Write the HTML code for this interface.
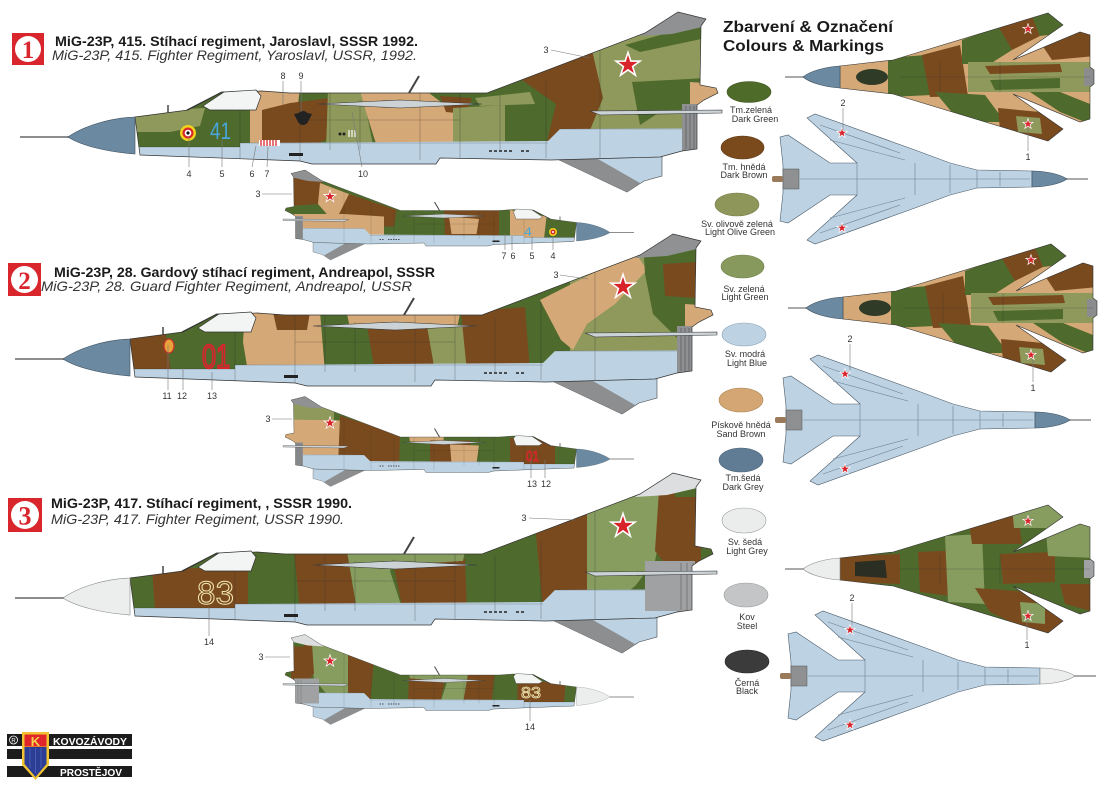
<!DOCTYPE html>
<html><head><meta charset="utf-8"><style>
html,body{margin:0;padding:0;background:#fff;width:1105px;height:791px;overflow:hidden}
svg{display:block}
text{font-family:"Liberation Sans",Arial,sans-serif}
</style></head><body>
<svg xmlns="http://www.w3.org/2000/svg" width="1105" height="791" viewBox="0 0 1105 791">
<defs>
<path id="star" d="M0,-12 L2.7,-3.72 L11.41,-3.71 L4.37,1.42 L7.05,9.71 L0,4.6 L-7.05,9.71 L-4.37,1.42 L-11.41,-3.71 L-2.7,-3.72 Z" fill="#d8232a" stroke="#fff" stroke-width="1.5"/>
<clipPath id="bc"><path d="M135,117 L188,110 L222,92 L262,91 L290,93 L487,93 L645,33 L678,12 L706,19 L701,26 L700,85 L716,88 L718,93 L704,100 L697,105 L697,149 L682,151 L660,157 L551,160 L440,158 L436,164 L312,164 L300,161 L140,155 Z"/></clipPath>
<path id="radP" d="M135,117 C108,118 82,127 68,137 C82,146 108,152 135,154 Z"/>

<g id="back">
 <line x1="20" y1="137" x2="72" y2="137" stroke="#8d8d8d" stroke-width="2"/>
 <path d="M555,158 L627,192 L644,181 L662,176 L662,156 Z" fill="#bdd3e4" stroke="#444" stroke-width=".6"/>
 <path d="M555,158 L627,192 L640,183 L598,159 Z" fill="#8c8e90"/>
</g>

<g id="belly">
 <path d="M120,147 L240,147 L240,143 L548,141 L560,129 L730,128 L730,175 L120,175 Z" fill="#bdd3e4"/>
 <rect x="682" y="104" width="20" height="47" fill="#8e9092"/>
 <path d="M686,106V149M690,106V149M694,106V149M698,106V149" stroke="#5e6062" stroke-width=".8"/>
 <rect x="289" y="153" width="14" height="3" fill="#222"/>
 <path d="M489,151h3m2,0h3m2,0h3m2,0h3m2,0h3M521,151h3m2,0h3" stroke="#222" stroke-width="1.4"/>
 <path d="M240,93V160M300,93V162M330,93V150M420,93V160M460,93V158M546,80V158M600,50V158M135,147H240M240,143H548M560,129H682M300,120H460M360,100V150M500,95V150" stroke="#2b2b2b" stroke-opacity=".45" stroke-width=".6" fill="none"/>
</g>

<g id="front">
 <path d="M135,117 L188,110 L222,92 L262,91 L290,93 L487,93 L645,33 L678,12 L706,19 L701,26 L700,85 L716,88 L718,93 L704,100 L697,105 L697,149 L682,151 L660,157 L551,160 L440,158 L436,164 L312,164 L300,161 L140,155 Z" fill="none" stroke="#333" stroke-width=".7"/>
 <path d="M203,106 L224,92 L256,90 L261,96 L256,110 L210,110 Z" fill="#f3f4f4" stroke="#333" stroke-width=".7"/>
 <path d="M187,110 L222,92" stroke="#333" stroke-width="1.2"/>
 <path d="M318,104 L400,100 L482,104 L400,108 Z" fill="#ccd3d7" stroke="#333" stroke-width=".6"/>
 <path d="M590,111 L722,110 L722,113 L600,115 Z" fill="#ccd3d7" stroke="#333" stroke-width=".6"/>
 <line x1="409" y1="93" x2="419" y2="76" stroke="#444" stroke-width="2"/>
 <line x1="168" y1="113" x2="168" y2="105" stroke="#444" stroke-width="1.5"/>
 <use href="#star" transform="translate(628,65) scale(1.05)"/>
</g>

<g id="camo1">
 <path fill="#8e995b" d="M130,112 L205,108 L200,126 L170,132 L130,132 Z"/>
 <path fill="#d5a977" d="M250,88 L300,88 L298,104 L275,108 L262,150 L250,150 Z"/>
 <path fill="#7a4a1f" d="M262,110 L290,103 L330,98 L326,140 L300,150 L262,150 Z"/>
 <path fill="#8e995b" d="M328,90 L362,90 L374,150 L326,150 Z"/>
 <path fill="#d5a977" d="M360,90 L425,90 L462,118 L452,150 L378,150 L366,112 Z"/>
 <path fill="#7a4a1f" d="M440,96 L472,98 L466,114 L446,112 Z"/>
 <path fill="#8e995b" d="M453,108 L505,105 L505,150 L453,150 Z"/>
 <path fill="#8e995b" d="M475,98 L530,92 L535,104 L480,106 Z"/>
 <path fill="#7a4a1f" d="M522,80 L594,52 L603,98 L582,150 L545,150 L556,104 Z"/>
 <path fill="#8e995b" d="M592,50 L660,5 L712,5 L712,150 L582,150 L603,98 Z"/>
 <path fill="#4e6a2c" d="M625,45 L706,22 L706,38 L640,52 Z"/>
 <path fill="#4e6a2c" d="M632,82 L706,78 L706,110 L660,112 L640,125 Z"/>
 <path fill="#d5a977" d="M690,82 L720,84 L720,112 L690,112 Z"/>
 <path fill="#8f9193" d="M640,36 L678,10 L708,17 L702,27 L672,34 Z"/>
</g>
<g id="camo2">
 <path fill="#7a4a1f" d="M128,110 L170,106 L176,150 L128,150 Z"/>
 <path fill="#d5a977" d="M250,90 L325,90 L330,150 L253,150 L248,120 Z"/>
 <path fill="#7a4a1f" d="M278,90 L315,90 L312,108 L282,108 Z"/>
 <path fill="#d5a977" d="M352,92 L465,92 L462,106 L355,106 Z"/>
 <path fill="#7a4a1f" d="M372,104 L432,104 L440,150 L380,150 Z"/>
 <path fill="#8e995b" d="M432,104 L472,104 L472,150 L440,150 Z"/>
 <path fill="#7a4a1f" d="M466,90 L530,85 L535,150 L472,150 Z"/>
 <path fill="#8e995b" d="M575,55 L660,5 L712,5 L712,150 L575,150 Z"/>
 <path fill="#d5a977" d="M545,78 L640,30 L652,48 L620,82 L592,102 L578,128 L566,118 Z"/>
 <path fill="#4e6a2c" d="M648,18 L712,12 L712,118 L684,118 L658,92 L650,52 Z"/>
 <path fill="#7a4a1f" d="M668,42 L702,40 L702,76 L670,74 Z"/>
 <path fill="#d5a977" d="M690,82 L720,84 L720,112 L690,112 Z"/>
 <path fill="#8f9193" d="M640,36 L678,10 L708,17 L702,27 L672,34 Z"/>
</g>
<g id="camo3">
 <path fill="#7a4a1f" d="M157,108 L253,106 L253,150 L160,150 Z"/>
 <path fill="#7a4a1f" d="M299,90 L352,90 L362,150 L305,150 Z"/>
 <path fill="#879c5f" d="M352,90 L400,90 L395,110 L408,150 L362,150 Z"/>
 <path fill="#7a4a1f" d="M398,102 L470,98 L472,150 L408,150 Z"/>
 <path fill="#879c5f" d="M395,90 L470,90 L468,100 L400,104 Z"/>
 <path fill="#7a4a1f" d="M540,62 L598,36 L595,150 L548,150 Z"/>
 <path fill="#879c5f" d="M592,36 L650,8 L672,8 L668,60 L660,100 L640,125 L610,150 L592,150 Z"/>
 <path fill="#7a4a1f" d="M664,30 L706,28 L706,100 L676,110 L660,90 Z"/>
 <path fill="#4e6a2c" d="M678,18 L706,18 L706,36 L680,36 Z"/>
 <path fill="#dcdedf" d="M640,36 L678,10 L708,17 L702,27 L672,34 Z"/>
</g>
<g id="camoS1">
 <path fill="#7a4a1f" d="M640,5 L720,5 L720,85 L650,80 Z"/>
 <path fill="#d5a977" d="M585,62 L648,38 L652,80 L630,105 L590,100 Z"/>
 <path fill="#7a4a1f" d="M495,92 L590,60 L610,100 L600,125 L500,125 Z"/>
 <path fill="#d5a977" d="M520,105 L600,100 L700,100 L700,150 L520,150 Z"/>
 <path fill="#7a4a1f" d="M290,92 L400,92 L398,150 L290,150 Z"/>
 <path fill="#d5a977" d="M330,110 L390,105 L385,140 L335,140 Z"/>
 <path fill="#d5a977" d="M195,105 L268,92 L268,150 L200,150 Z"/>
 <path fill="#8f9193" d="M640,36 L678,10 L708,17 L702,27 L672,34 Z"/>
</g>
<g id="camoS2">
 <path fill="#8e995b" d="M620,9 L720,9 L720,60 L620,60 Z"/>
 <path fill="#d5a977" d="M605,60 L720,58 L720,150 L610,150 Z"/>
 <path fill="#7a4a1f" d="M488,90 L608,50 L612,150 L490,150 Z"/>
 <path fill="#d5a977" d="M400,92 L470,92 L468,102 L402,104 Z"/>
 <path fill="#7a4a1f" d="M348,100 L428,100 L428,150 L348,150 Z"/>
 <path fill="#d5a977" d="M330,110 L388,108 L385,145 L335,145 Z"/>
 <path fill="#7a4a1f" d="M178,100 L268,95 L268,150 L178,150 Z"/>
 <path fill="#8f9193" d="M640,36 L678,10 L708,17 L702,27 L672,34 Z"/>
</g>

<g id="A1"><use href="#back"/><g clip-path="url(#bc)"><rect x="100" y="0" width="640" height="200" fill="#4e6a2c"/><use href="#camo1"/><use href="#belly"/></g><use href="#front"/><use href="#radP" fill="#6b8aa2" stroke="#3d4f5e" stroke-width=".6"/></g>
<g id="A2"><use href="#back"/><g clip-path="url(#bc)"><rect x="100" y="0" width="640" height="200" fill="#4e6a2c"/><use href="#camo2"/><use href="#belly"/></g><use href="#front"/><use href="#radP" fill="#6b8aa2" stroke="#3d4f5e" stroke-width=".6"/></g>
<g id="A3"><use href="#back"/><g clip-path="url(#bc)"><rect x="100" y="0" width="640" height="200" fill="#4e6a2c"/><use href="#camo3"/><use href="#belly"/><rect x="650" y="100" width="50" height="50" fill="#9fa1a3"/><path d="M686,102V149M692,102V149M698,102V149" stroke="#6a6c6e" stroke-width=".8"/></g><use href="#front"/><use href="#radP" fill="#eceeee" stroke="#888" stroke-width=".6"/></g>
<g id="A1s"><use href="#back"/><g clip-path="url(#bc)"><rect x="100" y="0" width="640" height="200" fill="#4e6a2c"/><use href="#camoS1"/><use href="#belly"/></g><use href="#front"/><use href="#radP" fill="#6b8aa2" stroke="#3d4f5e" stroke-width=".6"/></g>
<g id="A2s"><use href="#back"/><g clip-path="url(#bc)"><rect x="100" y="0" width="640" height="200" fill="#4e6a2c"/><use href="#camoS2"/><use href="#belly"/></g><use href="#front"/><use href="#radP" fill="#6b8aa2" stroke="#3d4f5e" stroke-width=".6"/></g>

<clipPath id="tc"><path d="M840,66 L893,60 L1048,13 L1063,25 L1013,60 L1080,32 L1090,35 L1090,67 L1094,70 L1094,84 L1090,87 L1090,119 L1080,122 L1013,94 L1063,129 L1048,141 L893,94 L840,88 Z"/></clipPath>
<path id="topD" d="M840,66 L893,60 L1048,13 L1063,25 L1013,60 L1080,32 L1090,35 L1090,67 L1094,70 L1094,84 L1090,87 L1090,119 L1080,122 L1013,94 L1063,129 L1048,141 L893,94 L840,88 Z"/>
<path id="topR" d="M840,66 C825,67 810,71 803,77 C810,83 825,87 840,88 Z"/>
<g id="camoT1">
 <rect x="830" y="0" width="270" height="150" fill="#d5a977"/>
 <ellipse cx="872" cy="77" rx="16" ry="8" fill="#2f3b27"/>
 <path fill="#4e6a2c" d="M888,58 L925,55 L932,95 L888,97 Z"/>
 <path fill="#7a4a1f" d="M922,55 L960,45 L968,96 L930,97 Z"/>
 <path fill="#4e6a2c" d="M962,40 L1000,26 L1012,50 L990,64 L962,64 Z"/>
 <path fill="#7a4a1f" d="M998,26 L1032,15 L1040,36 L1012,50 Z"/>
 <path fill="#4e6a2c" d="M1030,12 L1070,5 L1070,32 L1040,36 Z"/>
 <path fill="#8e995b" d="M968,62 L1095,62 L1095,92 L968,92 Z"/>
 <path fill="#7a4a1f" d="M985,66 L1060,64 L1062,72 L990,74 Z"/>
 <path fill="#4e6a2c" d="M990,80 L1060,78 L1060,88 L995,90 Z"/>
 <path fill="#4e6a2c" d="M935,92 L985,95 L1005,122 L960,122 Z"/>
 <path fill="#7a4a1f" d="M998,108 L1040,112 L1070,132 L1045,150 L1000,130 Z"/>
 <path fill="#8e995b" d="M1016,116 L1040,118 L1042,134 L1018,132 Z"/>
 <path fill="#7a4a1f" d="M1040,42 L1095,28 L1095,56 L1052,60 Z"/>
 <path fill="#4e6a2c" d="M1030,92 L1060,92 L1095,106 L1095,126 L1060,112 Z"/>
 <rect x="1084" y="68" width="10" height="18" fill="#8a8c8e"/>
</g>
<g id="camoT3">
 <rect x="830" y="0" width="270" height="150" fill="#4e6a2c"/>
 <path fill="#7a4a1f" d="M840,64 L900,62 L900,92 L840,90 Z"/>
 <path fill="#2b2e22" d="M855,70 L885,68 L887,86 L855,84 Z"/>
 <path fill="#7a4a1f" d="M918,60 L962,58 L966,106 L920,100 Z"/>
 <path fill="#879c5f" d="M945,44 L982,42 L985,112 L948,110 Z"/>
 <path fill="#7a4a1f" d="M968,24 L1018,22 L1022,52 L972,52 Z"/>
 <path fill="#879c5f" d="M1012,15 L1065,10 L1065,36 L1014,36 Z"/>
 <path fill="#7a4a1f" d="M1000,62 L1055,60 L1055,90 L1003,92 Z"/>
 <path fill="#7a4a1f" d="M975,96 L1030,100 L1068,126 L1050,148 L990,120 Z"/>
 <path fill="#879c5f" d="M1020,110 L1045,112 L1045,132 L1022,130 Z"/>
 <path fill="#879c5f" d="M1045,30 L1095,28 L1095,66 L1048,64 Z"/>
 <path fill="#7a4a1f" d="M1060,92 L1095,92 L1095,120 L1065,112 Z"/>
 <rect x="1084" y="68" width="10" height="18" fill="#a0a2a4"/>
</g>
<g id="T1">
 <line x1="785" y1="77" x2="805" y2="77" stroke="#8d8d8d" stroke-width="1.5"/>
 <g clip-path="url(#tc)"><use href="#camoT1"/></g>
 <path d="M900,77H1090M940,62V92M1000,62V92" stroke="#2b2b2b" stroke-opacity=".4" stroke-width=".6" fill="none"/>
 <use href="#topD" fill="none" stroke="#333" stroke-width=".6"/>
 <use href="#topR" fill="#6b8aa2" stroke="#3d4f5e" stroke-width=".6"/>
 <use href="#star" transform="translate(1028,29) scale(.45)"/>
 <use href="#star" transform="translate(1028,124) scale(.45)"/>
</g>
<g id="T3">
 <line x1="785" y1="77" x2="805" y2="77" stroke="#8d8d8d" stroke-width="1.5"/>
 <g clip-path="url(#tc)"><use href="#camoT3"/></g>
 <path d="M900,77H1090M940,62V92M1000,62V92" stroke="#2b2b2b" stroke-opacity=".4" stroke-width=".6" fill="none"/>
 <use href="#topD" fill="none" stroke="#333" stroke-width=".6"/>
 <use href="#topR" fill="#eceeee" stroke="#888" stroke-width=".6"/>
 <use href="#star" transform="translate(1028,29) scale(.45)"/>
 <use href="#star" transform="translate(1028,124) scale(.45)"/>
</g>
<g id="B0">
 <line x1="1065" y1="179" x2="1088" y2="179" stroke="#8d8d8d" stroke-width="1.5"/>
 <path d="M1032,171 L977,170 L950,163 L915,150 L815,114 L807,118 L857,163 L830,163 L788,135 L780,137 L783,165 L783,193 L780,221 L788,223 L830,195 L857,195 L807,240 L815,244 L915,208 L950,195 L977,188 L1032,187 Z" fill="#bdd3e4" stroke="#4a5a68" stroke-width=".6"/>
 <path d="M800,179H1030M857,163V195M915,163V195M977,170V188M830,140L905,160M830,218L905,198M820,125L900,153M820,233L900,205M950,165V193M1000,172V186" stroke="#6d8193" stroke-width=".6" fill="none"/>
 <rect x="783" y="169" width="16" height="20" fill="#8e9092" stroke="#555" stroke-width=".5"/>
 <rect x="772" y="176" width="11" height="6" rx="2" fill="#9a7a5a"/>
 <use href="#star" transform="translate(842,133) scale(.45)"/>
 <use href="#star" transform="translate(842,228) scale(.45)"/>
</g>
<path id="botR" d="M1032,171 C1045,171 1060,174 1067,179 C1060,184 1045,187 1032,187 Z"/>
</defs>

<rect width="1105" height="791" fill="#fff"/>

<!-- Side views -->
<use href="#A1"/>
<use href="#A2" transform="translate(-5,222)"/>
<use href="#A3" transform="translate(-5,461)"/>
<use href="#A1s" transform="translate(644,164) scale(-0.5,0.5)"/>
<use href="#A2s" transform="translate(644,390.5) scale(-0.5,0.5)"/>
<use href="#A3" transform="translate(644,628.5) scale(-0.5,0.5)"/>

<!-- markings large 1 -->
<circle cx="188" cy="133" r="8" fill="#f3d21c"/><circle cx="188" cy="133" r="5.5" fill="#d8262c"/><circle cx="188" cy="133" r="3.3" fill="#fff"/><circle cx="188" cy="133" r="1.6" fill="#111"/>
<text x="210" y="139" font-size="24" fill="#48a7da" textLength="21" lengthAdjust="spacingAndGlyphs">41</text>
<ellipse cx="303" cy="118" rx="6" ry="7" fill="#222"/><path d="M294,114 L303,112 L312,114 L309,120 L297,120 Z" fill="#222"/>
<rect x="259" y="140" width="21" height="6" fill="#fff"/><path d="M261,140V146M264,140V146M267,140V146M270,140V146M273,140V146M276,140V146" stroke="#d8262c" stroke-width="1.3"/>
<path d="M349,130V137M352,130V137M355,130V137" stroke="#fff" stroke-width="1.2"/>
<circle cx="340" cy="134" r="1.5" fill="#222"/><circle cx="344" cy="134" r="1.5" fill="#222"/>
<!-- markings large 2 -->
<ellipse cx="169" cy="346" rx="5" ry="7" fill="#e8a43a" stroke="#c8302a" stroke-width="1.2"/>
<text x="202" y="368" font-size="33" fill="none" stroke="#d8262c" stroke-width="2" textLength="28" lengthAdjust="spacingAndGlyphs">01</text>
<!-- markings large 3 -->
<text x="197" y="604" font-size="32" fill="none" stroke="#efe6b0" stroke-width="1" textLength="37" lengthAdjust="spacingAndGlyphs">83</text>
<!-- small markings -->
<text x="524" y="236" font-size="12" fill="#48a7da" textLength="8" lengthAdjust="spacingAndGlyphs">4</text>
<circle cx="553" cy="232" r="4" fill="#f3d21c"/><circle cx="553" cy="232" r="2.4" fill="#d8262c"/><circle cx="553" cy="232" r="1" fill="#fff"/>
<text x="526" y="461" font-size="15" fill="none" stroke="#d8262c" stroke-width="1" textLength="13" lengthAdjust="spacingAndGlyphs">01</text>
<text x="521" y="698" font-size="16" fill="none" stroke="#efe6b0" stroke-width=".8" textLength="20" lengthAdjust="spacingAndGlyphs">83</text>

<!-- Plan views -->
<use href="#T1"/>
<use href="#T1" transform="translate(3,231)"/>
<use href="#T3" transform="translate(0,492)"/>
<use href="#B0"/><use href="#botR" fill="#6b8aa2" stroke="#3d4f5e" stroke-width=".6"/>
<g transform="translate(3,241)"><use href="#B0"/><use href="#botR" fill="#6b8aa2" stroke="#3d4f5e" stroke-width=".6"/></g>
<g transform="translate(8,497)"><use href="#B0"/><use href="#botR" fill="#eceeee" stroke="#888" stroke-width=".6"/></g>

<!-- Leaders and numbers -->
<g stroke="#777" stroke-width=".6" fill="none">
 <path d="M551,50L590,58M283,81V105M301,81V112M189,167V136M222,167V140M252,167L256,146M267,167L268,147M362,167L352,112"/>
 <path d="M262,194H292M505,250V234M512,250V236M532,250V236M553,250V236"/>
 <path d="M560,275L588,279M168,390V345M183,390V368M212,390V372"/>
 <path d="M272,419H292M531,478V460M545,478V460"/>
 <path d="M529,518L575,520M209,636V607"/>
 <path d="M265,657H290M530,721V700"/>
 <path d="M843,108V130M1028,151V128M850,344V370M1033,382V360M852,603V625M1027,640V618"/>
</g>
<g font-size="9" fill="#333" text-anchor="middle">
 <text x="546" y="53">3</text><text x="283" y="79">8</text><text x="301" y="79">9</text>
 <text x="189" y="177">4</text><text x="222" y="177">5</text><text x="252" y="177">6</text><text x="267" y="177">7</text><text x="363" y="177">10</text>
 <text x="258" y="197">3</text><text x="504" y="259">7</text><text x="513" y="259">6</text><text x="532" y="259">5</text><text x="553" y="259">4</text>
 <text x="556" y="278">3</text><text x="167" y="399">11</text><text x="182" y="399">12</text><text x="212" y="399">13</text>
 <text x="268" y="422">3</text><text x="532" y="487">13</text><text x="546" y="487">12</text>
 <text x="524" y="521">3</text><text x="209" y="645">14</text>
 <text x="261" y="660">3</text><text x="530" y="730">14</text>
 <text x="843" y="106">2</text><text x="1028" y="160">1</text>
 <text x="850" y="342">2</text><text x="1033" y="391">1</text>
 <text x="852" y="601">2</text><text x="1027" y="648">1</text>
</g>

<!-- Badges & titles -->
<rect x="12" y="33" width="32" height="32" fill="#d8262c"/><circle cx="28" cy="49" r="13" fill="#fff"/>
<text x="28" y="58" font-size="25" font-weight="bold" fill="#d8262c" text-anchor="middle" style="font-family:'Liberation Serif',serif">1</text>
<rect x="8" y="263" width="33" height="33" fill="#d8262c"/><circle cx="24.5" cy="279.5" r="13.5" fill="#fff"/>
<text x="24.5" y="289" font-size="25" font-weight="bold" fill="#d8262c" text-anchor="middle" style="font-family:'Liberation Serif',serif">2</text>
<rect x="8" y="498" width="34" height="34" fill="#d8262c"/><circle cx="25" cy="515" r="14" fill="#fff"/>
<text x="25" y="524.5" font-size="26" font-weight="bold" fill="#d8262c" text-anchor="middle" style="font-family:'Liberation Serif',serif">3</text>

<text x="55" y="46" font-size="14" font-weight="bold" fill="#1a1a1a" textLength="363" lengthAdjust="spacingAndGlyphs">MiG-23P, 415. Stíhací regiment, Jaroslavl, SSSR 1992.</text>
<text x="52" y="60" font-size="14" font-style="italic" fill="#333" textLength="365" lengthAdjust="spacingAndGlyphs">MiG-23P, 415. Fighter Regiment, Yaroslavl, USSR, 1992.</text>
<text x="54" y="277" font-size="14" font-weight="bold" fill="#1a1a1a" textLength="381" lengthAdjust="spacingAndGlyphs">MiG-23P, 28. Gardový stíhací regiment, Andreapol, SSSR</text>
<text x="41" y="291" font-size="14" font-style="italic" fill="#333" textLength="371" lengthAdjust="spacingAndGlyphs">MiG-23P, 28. Guard Fighter Regiment, Andreapol, USSR</text>
<text x="51" y="508" font-size="14" font-weight="bold" fill="#1a1a1a" textLength="301" lengthAdjust="spacingAndGlyphs">MiG-23P, 417. Stíhací regiment, , SSSR 1990.</text>
<text x="51" y="524" font-size="14" font-style="italic" fill="#333" textLength="293" lengthAdjust="spacingAndGlyphs">MiG-23P, 417. Fighter Regiment,  USSR 1990.</text>

<text x="723" y="32" font-size="16" font-weight="bold" fill="#1a1a1a" textLength="170" lengthAdjust="spacingAndGlyphs">Zbarvení &amp; Označení</text>
<text x="723" y="51" font-size="16" font-weight="bold" fill="#1a1a1a" textLength="161" lengthAdjust="spacingAndGlyphs">Colours &amp; Markings</text>

<!-- Swatches -->
<g stroke-width=".6">
 <ellipse cx="749" cy="92" rx="22" ry="10.5" fill="#4f6b2a" stroke="#3f5820"/>
 <ellipse cx="742.5" cy="147.5" rx="21.5" ry="11.5" fill="#7a4a1c" stroke="#5e3812"/>
 <ellipse cx="737" cy="204.5" rx="22" ry="11.5" fill="#8e9659" stroke="#747c45"/>
 <ellipse cx="742.5" cy="266.5" rx="21.5" ry="11.5" fill="#87995d" stroke="#6e8048"/>
 <ellipse cx="744" cy="334.5" rx="22" ry="11.5" fill="#bdd2e3" stroke="#8a9fb0"/>
 <ellipse cx="741" cy="400" rx="22" ry="12" fill="#d4a673" stroke="#a98150"/>
 <ellipse cx="741" cy="460" rx="22" ry="12" fill="#5f7c94" stroke="#4a6278"/>
 <ellipse cx="744" cy="520.5" rx="22" ry="12.5" fill="#ebeded" stroke="#999"/>
 <ellipse cx="746" cy="595" rx="22" ry="12" fill="#c3c5c7" stroke="#999"/>
 <ellipse cx="747" cy="661.5" rx="22" ry="11.5" fill="#3b3b3b" stroke="#222"/>
</g>
<g font-size="9" fill="#333" text-anchor="middle">
 <text x="751" y="113">Tm.zelená</text><text x="755" y="122">Dark Green</text>
 <text x="744" y="170">Tm. hnědá</text><text x="744" y="178">Dark Brown</text>
 <text x="737" y="227">Sv. olivově zelená</text><text x="740" y="235">Light Olive Green</text>
 <text x="744" y="292">Sv. zelená</text><text x="745" y="300">Light Green</text>
 <text x="745" y="357">Sv. modrá</text><text x="747" y="366">Light Blue</text>
 <text x="741" y="428">Pískově hnědá</text><text x="741" y="437">Sand Brown</text>
 <text x="743" y="481">Tm.šedá</text><text x="743" y="490">Dark Grey</text>
 <text x="745" y="545">Sv. šedá</text><text x="747" y="554">Light Grey</text>
 <text x="747" y="620">Kov</text><text x="747" y="629">Steel</text>
 <text x="747" y="686">Černá</text><text x="747" y="694">Black</text>
</g>

<!-- Logo -->
<rect x="7" y="734" width="125" height="12" fill="#1c1c1c"/>
<rect x="7" y="749" width="125" height="10" fill="#1c1c1c"/>
<rect x="7" y="766" width="125" height="11" fill="#1c1c1c"/>
<circle cx="13.5" cy="740" r="4" fill="none" stroke="#fff" stroke-width=".8"/>
<text x="13.5" y="742.3" font-size="6" fill="#fff" text-anchor="middle">R</text>
<path d="M22,732 H49 V765 L35.5,780 L22,765 Z" fill="#f2c230"/>
<rect x="24.5" y="734.5" width="22" height="12" fill="#e0262a"/>
<path d="M24.5,747 H46.5 V764 L35.5,777 L24.5,764 Z" fill="#2c3d96"/>
<path d="M30,748V768M35.5,748V773M41,748V768" stroke="#4a5cb0" stroke-width="1"/>
<text x="35.5" y="746" font-size="13" font-weight="bold" fill="#f6d24a" text-anchor="middle">K</text>
<text x="53" y="745" font-size="10" font-weight="bold" fill="#fff" textLength="74" lengthAdjust="spacingAndGlyphs">KOVOZÁVODY</text>
<text x="60" y="776" font-size="10" font-weight="bold" fill="#fff" textLength="62" lengthAdjust="spacingAndGlyphs">PROSTĚJOV</text>
</svg>
</body></html>
